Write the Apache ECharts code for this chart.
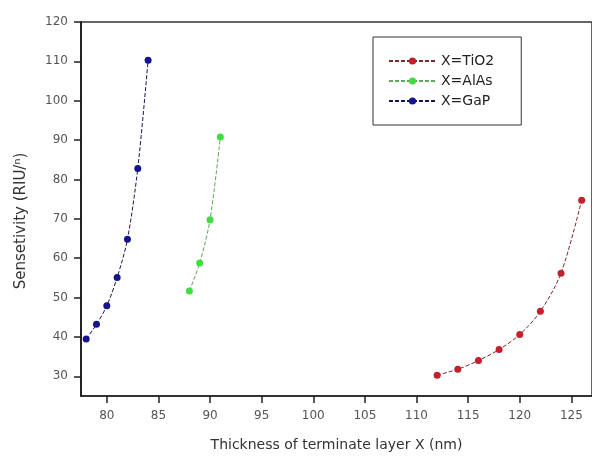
<!DOCTYPE html>
<html>
<head>
<meta charset="utf-8">
<script src="https://cdn.jsdelivr.net/npm/echarts@6/dist/echarts.min.js"></script>
<style>
  html, body { margin: 0; padding: 0; background: #fff; overflow: hidden; }
  #chart { width: 592px; height: 457px; }
</style>
</head>
<body>
<div id="chart"></div>
<script>
// values
var tio2X = [112, 114, 116, 118, 120, 122, 124, 126];
var tio2Y = [30.3, 31.8, 34, 36.8, 40.6, 46.5, 56.2, 74.7];
var alasX = [88, 89, 90, 91];
var alasY = [51.7, 58.8, 69.8, 90.8];
var gapX = [78, 79, 80, 81, 82, 83, 84];
var gapY = [39.5, 43.2, 47.9, 55.1, 64.8, 82.8, 110.3];
var seriesNames = ['X=TiO2', 'X=AlAs', 'X=GaP'];
var xTicks = [80, 85, 90, 95, 100, 105, 110, 115, 120, 125];
var yTicks = [30, 40, 50, 60, 70, 80, 90, 100, 110, 120];

function pairs(xs, ys) {
  return xs.map(function (x, i) { return [x, ys[i]]; });
}

var myChart = echarts.init(document.getElementById('chart'));

function makeSeries(name, xs, ys, color, lineColor) {
  return {
    name: name,
    type: 'line',
    smooth: 0.3,
    symbol: 'circle',
    symbolSize: 7,
    itemStyle: { color: color },
    lineStyle: { color: lineColor, width: 1, type: [4, 2] },
    data: pairs(xs, ys)
  };
}

var option = {
  backgroundColor: '#fff',
  animation: false,
  grid: {
    left: 81, right: 0, top: 22, bottom: 56,
    show: true, borderColor: '#333', borderWidth: 1.5
  },
  legend: {
    data: seriesNames,
    orient: 'vertical',
    left: 373,
    top: 37,
    padding: [17, 27, 17, 15],
    itemGap: 6,
    itemWidth: 47,
    itemHeight: 9,
    borderColor: '#333',
    borderWidth: 1,
    textStyle: { fontFamily: 'DejaVu Sans', fontSize: 14, lineHeight: 14, color: '#222' }
  },
  xAxis: {
    type: 'value',
    min: 77.5,
    max: 127,
    name: 'Thickness of terminate layer X (nm)',
    nameLocation: 'middle',
    nameGap: 42,
    nameTextStyle: { fontFamily: 'DejaVu Sans', fontSize: 14, color: '#333' },
    axisLine: { lineStyle: { color: '#222', width: 1.5 } },
    axisTick: { show: true, length: 7, customValues: xTicks, lineStyle: { color: '#222', width: 1.5 } },
    axisLabel: {
      margin: 14, customValues: xTicks,
      fontFamily: 'DejaVu Sans', fontSize: 12, color: '#555'
    },
    splitLine: { show: false }
  },
  yAxis: {
    type: 'value',
    min: 25,
    max: 120,
    name: 'Sensetivity (RIU/\u207f)',
    nameLocation: 'middle',
    nameGap: 52,
    nameTextStyle: { fontFamily: 'DejaVu Sans', fontSize: 15, color: '#333', padding: [0, 24, 0, 0] },
    axisLine: { lineStyle: { color: '#222', width: 2 } },
    axisTick: { show: true, length: 7, customValues: yTicks, lineStyle: { color: '#222', width: 1.5 } },
    axisLabel: {
      margin: 13, customValues: yTicks,
      fontFamily: 'DejaVu Sans', fontSize: 12, color: '#555'
    },
    splitLine: { show: false }
  },
  series: [
    makeSeries(seriesNames[0], tio2X, tio2Y, '#c4202c', '#7a2a2a'),
    makeSeries(seriesNames[1], alasX, alasY, '#3ede3e', '#5aa85a'),
    makeSeries(seriesNames[2], gapX, gapY, '#14148c', '#161650')
  ]
};

option && myChart.setOption(option);
</script>
</body>
</html>
